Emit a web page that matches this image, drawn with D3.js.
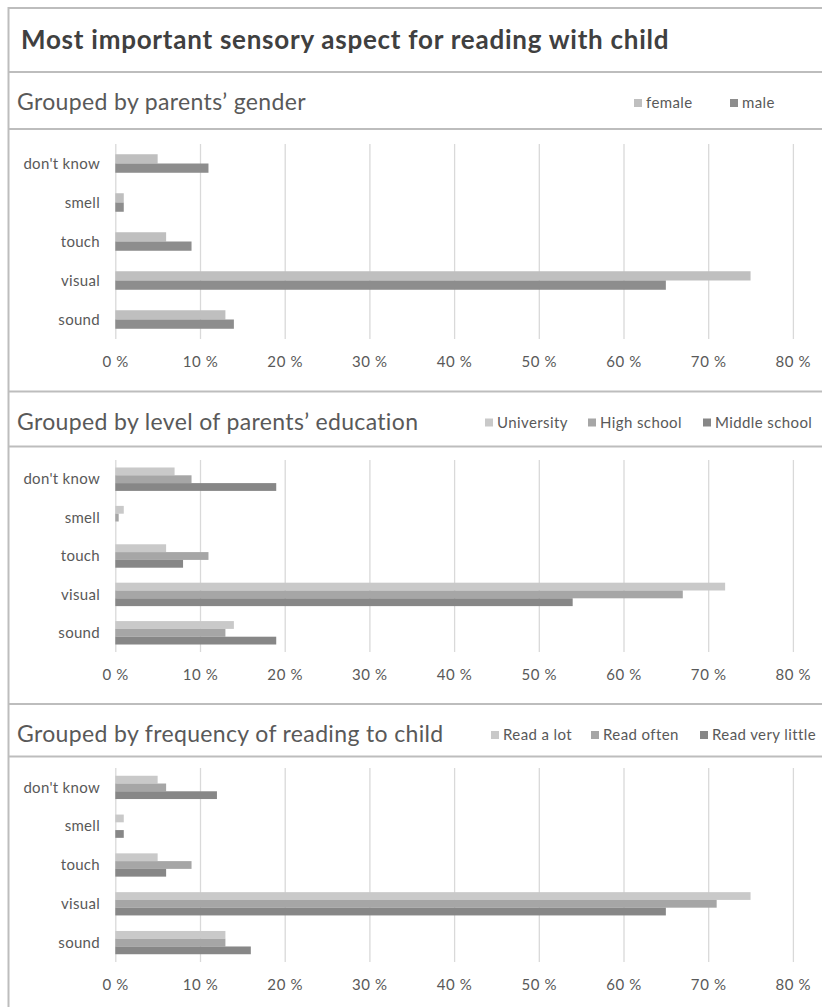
<!DOCTYPE html>
<html>
<head>
<meta charset="utf-8">
<script src="https://cdn.jsdelivr.net/npm/d3@7/dist/d3.min.js"></script>
<style>
  html, body { margin: 0; padding: 0; background: #ffffff; }
  svg { display: block; }
  text { font-family: Lato, "Open Sans", sans-serif; }
</style>
</head>
<body>
<svg id="chart" width="822" height="1007"></svg>
<script>
// Shared category order (top to bottom) and axis ticks
const categories = ["don't know", "smell", "touch", "visual", "sound"];
const tickValues = [0, 10, 20, 30, 40, 50, 60, 70, 80];

// Panel 1: parents' gender
const genderSeries = ["female", "male"];
const femaleValues = [5, 1, 6, 75, 13];
const maleValues = [11, 1, 9, 65, 14];

// Panel 2: parents' education
const educationSeries = ["University", "High school", "Middle school"];
const universityValues = [7, 1, 6, 72, 14];
const highSchoolValues = [9, 0.4, 11, 67, 13];
const middleSchoolValues = [19, 0, 8, 54, 19];

// Panel 3: frequency of reading
const frequencySeries = ["Read a lot", "Read often", "Read very little"];
const readALotValues = [5, 1, 5, 75, 13];
const readOftenValues = [6, 0, 9, 71, 13];
const readVeryLittleValues = [12, 1, 6, 65, 16];

const panels = [
  {
    subtitle: "Grouped by parents\u2019 gender",
    series: genderSeries,
    values: [femaleValues, maleValues],
    colors: ["#bfbfbf", "#8d8d8d"],
    top: 72, sep: 129, plotTop: 144, plotBottom: 339, padding: 0.525,
    legendX: [634, 730]
  },
  {
    subtitle: "Grouped by level of parents\u2019 education",
    series: educationSeries,
    values: [universityValues, highSchoolValues, middleSchoolValues],
    colors: ["#c9c9c9", "#a6a6a6", "#878787"],
    top: 391.5, sep: 446.5, plotTop: 460, plotBottom: 652, padding: 0.39,
    legendX: [485, 588, 703]
  },
  {
    subtitle: "Grouped by frequency of reading to child",
    series: frequencySeries,
    values: [readALotValues, readOftenValues, readVeryLittleValues],
    colors: ["#c9c9c9", "#a6a6a6", "#878787"],
    top: 704, sep: 756.5, plotTop: 768, plotBottom: 962, padding: 0.4,
    legendX: [491, 591, 700]
  }
];

const svg = d3.select("#chart");
const W = 822, H = 1007;
const frameColor = "#bdbdbd";
const x = d3.scaleLinear().domain([0, 80]).range([115.3, 792.9]);

// Outer frame: left edge and top edge
svg.append("line").attr("x1", 8.5).attr("x2", 8.5).attr("y1", 7).attr("y2", H)
  .attr("stroke", frameColor).attr("stroke-width", 2);
svg.append("line").attr("x1", 8).attr("x2", W).attr("y1", 8).attr("y2", 8)
  .attr("stroke", frameColor).attr("stroke-width", 2);

// Main title
svg.append("text")
  .attr("x", 21).attr("y", 49)
  .attr("font-size", 26).attr("font-weight", 700)
  .attr("letter-spacing", 0.75)
  .attr("fill", "#404040")
  .text("Most important sensory aspect for reading with child");

panels.forEach(p => {
  // Section separators
  [p.top, p.sep].forEach(yy => {
    svg.append("line").attr("x1", 8).attr("x2", W).attr("y1", yy).attr("y2", yy)
      .attr("stroke", frameColor).attr("stroke-width", 2);
  });

  // Subtitle
  svg.append("text")
    .attr("x", 17).attr("y", p.top + 38)
    .attr("font-size", 23).attr("letter-spacing", 0.35)
    .attr("fill", "#595959")
    .text(p.subtitle);

  // Legend
  const legend = svg.append("g");
  p.series.forEach((name, i) => {
    const lx = p.legendX[i];
    legend.append("rect")
      .attr("x", lx).attr("y", p.top + 27).attr("width", 8).attr("height", 8)
      .attr("fill", p.colors[i]);
    legend.append("text")
      .attr("x", lx + 12).attr("y", p.top + 36)
      .attr("font-size", 15).attr("letter-spacing", 0.4)
      .attr("fill", "#595959")
      .text(name);
  });

  const g = svg.append("g");
  const y = d3.scaleBand()
    .domain(categories)
    .range([p.plotTop, p.plotBottom])
    .paddingInner(p.padding)
    .paddingOuter(p.padding / 2);
  const ySub = d3.scaleBand()
    .domain(p.series)
    .range([0, y.bandwidth()]);

  // Vertical gridlines and percentage labels
  const axis = d3.axisBottom(x)
    .tickValues(tickValues)
    .tickFormat(d => d + " %")
    .tickSizeInner(-(p.plotBottom - p.plotTop))
    .tickSizeOuter(0)
    .tickPadding(17);
  const ax = g.append("g")
    .attr("transform", `translate(0,${p.plotBottom})`)
    .call(axis);
  ax.select(".domain").remove();
  ax.selectAll(".tick line").attr("stroke", "#d9d9d9").attr("stroke-width", 1.3);
  ax.selectAll(".tick text")
    .attr("font-family", "Lato, 'Open Sans', sans-serif")
    .attr("font-size", 15).attr("letter-spacing", 0.6)
    .attr("fill", "#595959");

  // Bars
  p.series.forEach((name, si) => {
    g.append("g").selectAll("rect")
      .data(categories.map((c, ci) => ({ c, v: p.values[si][ci] })))
      .join("rect")
      .attr("x", x(0))
      .attr("y", d => y(d.c) + ySub(name))
      .attr("width", d => x(d.v) - x(0))
      .attr("height", ySub.bandwidth())
      .attr("fill", p.colors[si]);
  });

  // Category labels
  g.append("g").selectAll("text")
    .data(categories)
    .join("text")
    .attr("x", 100)
    .attr("y", d => y(d) + y.bandwidth() / 2)
    .attr("dy", "0.35em")
    .attr("text-anchor", "end")
    .attr("font-size", 15).attr("letter-spacing", 0.3)
    .attr("fill", "#595959")
    .text(d => d);
});
</script>
</body>
</html>
